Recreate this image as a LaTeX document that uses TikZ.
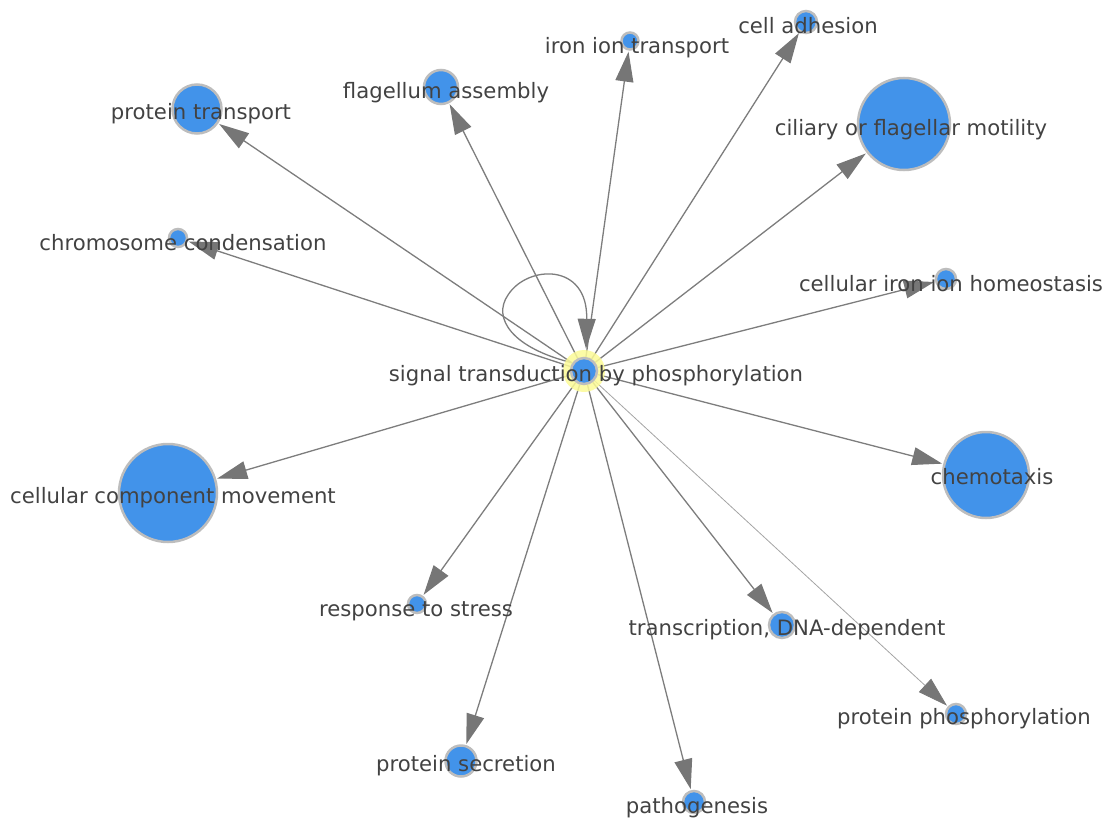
\documentclass[tikz,border=0pt]{standalone}
\usepackage{fontspec}
\setmainfont{DejaVu Sans}
\usetikzlibrary{arrows.meta,backgrounds}
\definecolor{nodeblue}{RGB}{66,147,234}
\definecolor{rimgray}{RGB}{189,189,189}
\definecolor{edgegray}{RGB}{125,125,125}
\definecolor{tipgray}{RGB}{118,118,118}
\definecolor{labelgray}{RGB}{66,66,66}
\definecolor{halo}{RGB}{252,250,150}
\tikzset{
  term/.style={circle, fill=nodeblue, draw=rimgray, line width=2.5bp, inner sep=0pt, minimum size=#1},
  termlabel/.style={text=labelgray, inner sep=0pt, text height=19.5bp, text depth=2bp,
    font=\fontsize{21.2bp}{25bp}\selectfont},
  edge/.style={draw=edgegray, line width=1.3bp, shorten >=1bp,
    -{Triangle[length=30bp,width=18bp,color=tipgray]}},
  thinedge/.style={edge, draw=edgegray!70, line width=0.8bp},
}
\begin{document}
\begin{tikzpicture}[x=1bp,y=-1bp]
\useasboundingbox (0,0) rectangle (1104,819);

% GO terms
\node[circle, fill=halo, fill opacity=0.85, inner sep=0pt, minimum size=42bp] (halo) at (584,371) {};
\node[term=26bp] (c) at (584,371) {};
\node[term=49bp] (pt) at (197,109) {};
\node[term=34bp] (fa) at (441,87) {};
\node[term=17bp] (iit) at (630,41) {};
\node[term=22bp] (ca) at (806,22) {};
\node[term=92bp] (cfm) at (904,124) {};
\node[term=18bp] (cc) at (178,238) {};
\node[term=20bp] (ciih) at (946,279) {};
\node[term=98bp] (ccm) at (168,493) {};
\node[term=86bp] (ch) at (986,475) {};
\node[term=18bp] (rs) at (417,604) {};
\node[term=26bp] (tr) at (782,625) {};
\node[term=20bp] (pp) at (956,714) {};
\node[term=31bp] (ps) at (461,761) {};
\node[term=22bp] (pg) at (694,802) {};

% edges from the central term
\begin{scope}[on background layer]
\draw[edge] (c) -- (pt);
\draw[edge] (c) -- (fa);
\draw[edge] (c) -- (iit);
\draw[edge] (c) -- (ca);
\draw[edge] (c) -- (cfm);
\draw[edge] (c) -- (cc);
\draw[edge] (c) -- (ciih);
\draw[edge] (c) -- (ccm);
\draw[edge] (c) -- (ch);
\draw[edge] (c) -- (rs);
\draw[edge] (c) -- (tr);
\draw[thinedge] (c) -- (pp);
\draw[edge] (c) -- (ps);
\draw[edge] (c) -- (pg);
% self loop
\draw[edge] (c.145) .. controls (512,348) and (492,318) .. (508,295)
  .. controls (527,265) and (588,262) .. ([xshift=2bp]halo.north);
\end{scope}

% labels
\node[termlabel] (lc) at (596,373) {signal transduction by phosphorylation};
\node[termlabel] (lpt) at (201,111) {protein transport};
\node[termlabel] (lfa) at (446,90) {flagellum assembly};
\node[termlabel] (liit) at (637,45) {iron ion transport};
\node[termlabel] (lca) at (808,25) {cell adhesion};
\node[termlabel] (lcfm) at (911,127) {ciliary or flagellar motility};
\node[termlabel] (lcc) at (183,242) {chromosome condensation};
\node[termlabel] (lciih) at (951,283) {cellular iron ion homeostasis};
\node[termlabel] (lccm) at (173,495) {cellular component movement};
\node[termlabel] (lch) at (992,476) {chemotaxis};
\node[termlabel] (lrs) at (416,608) {response to stress};
\node[termlabel] (ltr) at (787,627) {transcription, DNA-dependent};
\node[termlabel] (lpp) at (964,716) {protein phosphorylation};
\node[termlabel] (lps) at (466,763) {protein secretion};
\node[termlabel] (lpg) at (697,805) {pathogenesis};
\end{tikzpicture}
\end{document}
